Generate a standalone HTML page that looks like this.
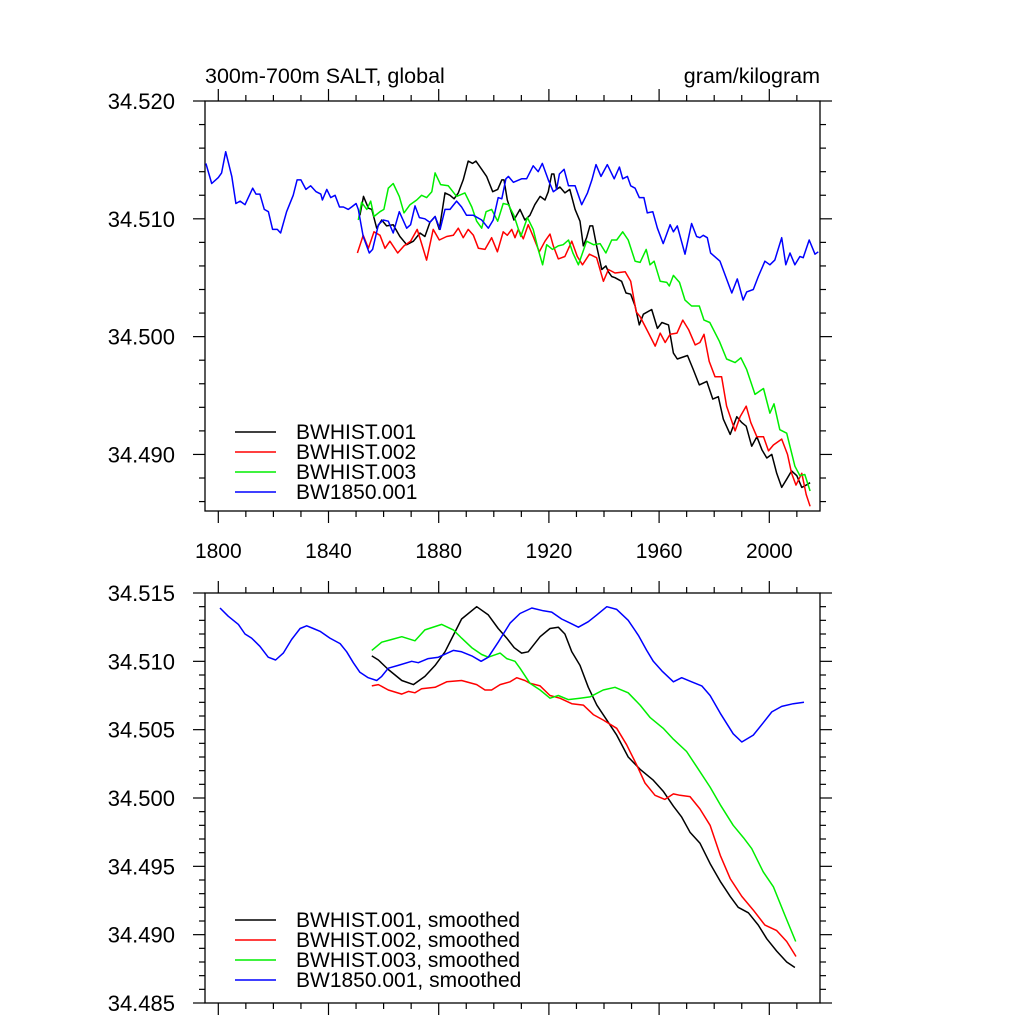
<!DOCTYPE html>
<html><head><meta charset="utf-8"><style>
html,body{margin:0;padding:0;background:#fff;}
svg{display:block;font-family:"Liberation Sans",Arial,sans-serif;}
</style></head><body>
<svg id="chart" width="1024" height="1024" viewBox="0 0 1024 1024" xmlns="http://www.w3.org/2000/svg">
<text x="205" y="83" font-size="21.5">300m-700m SALT, global</text>
<text x="820" y="83" font-size="21.5" text-anchor="end">gram/kilogram</text>
<g id="top"></g>
<g id="bot"></g>
</svg>
<script>
// ---- top panel raw data ----
const blueYears=[1795.5,1797.6,1800,1801.2,1802.7,1804.9,1806.4,1807.9,1809.7,1812.5,1813.7,1815.1,1816.7,1818.2,1819.7,1821.4,1822.6,1824.8,1827.2,1828.6,1830,1831.8,1833.5,1835.5,1837.2,1837.8,1839.4,1840.8,1842.4,1844,1845.4,1847.2,1848.4,1850,1850.8,1852.6,1854.8,1856,1858.1,1859.9,1861.7,1863.5,1865.7,1868.4,1869.8,1871.4,1873,1875,1876.8,1878.7,1880.5,1882.3,1884.1,1886.5,1888.3,1890.1,1892.6,1895.6,1898,1899.8,1901.6,1902.9,1904.4,1905.3,1907.1,1910.1,1911.9,1914.3,1916.1,1917.6,1919.8,1921.6,1922.8,1923.8,1925.5,1927.1,1929.5,1931.9,1934,1935.6,1937.1,1938.9,1941.2,1943.7,1945.6,1946.8,1948.5,1949.7,1951.3,1952.8,1954.5,1955.7,1957.7,1959.4,1961.5,1964,1965.2,1966.6,1969.4,1971.8,1973.6,1974.8,1976,1977.5,1978.7,1982.1,1986.4,1988.4,1990.5,1991.8,1994.2,1996,1998.4,2000.2,2002,2004.5,2006,2007.5,2009.3,2011.1,2012.3,2014.5,2016.6,2017.8];
const blueVals=[34.5147,34.5130,34.5135,34.5139,34.5157,34.5136,34.5113,34.5115,34.5112,34.5126,34.5121,34.5121,34.5108,34.5106,34.5091,34.5091,34.5088,34.5106,34.5120,34.5133,34.5133,34.5125,34.5128,34.5123,34.5121,34.5116,34.5125,34.5118,34.5120,34.5110,34.5110,34.5108,34.5110,34.5113,34.5108,34.5085,34.5071,34.5074,34.5095,34.5099,34.5098,34.5088,34.5106,34.5092,34.5095,34.5111,34.5101,34.5100,34.5097,34.5102,34.5091,34.5108,34.5108,34.5115,34.5110,34.5103,34.5103,34.5099,34.5092,34.5099,34.5118,34.5117,34.5134,34.5136,34.5131,34.5134,34.5134,34.5145,34.5140,34.5147,34.5133,34.5123,34.5125,34.5138,34.5142,34.5128,34.5128,34.5112,34.5122,34.5133,34.5146,34.5136,34.5146,34.5134,34.5144,34.5134,34.5136,34.5128,34.5126,34.5118,34.5118,34.5105,34.5106,34.5092,34.5079,34.5095,34.5089,34.5094,34.5070,34.5096,34.5085,34.5084,34.5086,34.5084,34.5071,34.5064,34.5037,34.5049,34.5031,34.5038,34.5040,34.5051,34.5064,34.5061,34.5065,34.5084,34.5061,34.5071,34.5061,34.5068,34.5067,34.5082,34.5070,34.5072];
const blackYears=[1851.4,1852.7,1854.5,1855.7,1857.5,1859.3,1861.1,1863.5,1865.9,1868.4,1870.8,1873.2,1875,1876.8,1878.7,1880.2,1882.3,1884.1,1885.6,1887.1,1888.9,1890.7,1892.3,1893.5,1895.6,1897.4,1899.6,1901.4,1902.9,1903.7,1904.9,1907.3,1909.5,1911.3,1913.1,1914.9,1916.8,1918.6,1919.8,1921,1921.8,1922.8,1924,1925.8,1927.6,1929.5,1931.3,1932.5,1933.7,1934.9,1935.9,1937.3,1939.2,1940.7,1941.6,1942.8,1944,1946.4,1948,1949.7,1951.3,1952.8,1954.3,1957.3,1959.4,1961,1963.4,1965.2,1966.6,1970.3,1972.4,1974.6,1977.3,1979.5,1981.5,1983.3,1985.8,1988.2,1990,1991.6,1993.6,1995.5,1997.3,1999.1,2000.9,2002.7,2004.5,2006.3,2008.1,2010,2011.8,2013.4,2014.8];
const blackVals=[34.5103,34.5119,34.5109,34.5108,34.5092,34.5099,34.5094,34.5095,34.5085,34.5078,34.5081,34.5088,34.5085,34.5097,34.5102,34.5091,34.5122,34.5120,34.5117,34.5122,34.5133,34.5149,34.5147,34.5149,34.5142,34.5136,34.5123,34.5125,34.5133,34.5133,34.5116,34.5099,34.5108,34.5099,34.5103,34.5112,34.5119,34.5116,34.5123,34.5138,34.5138,34.5125,34.5127,34.5122,34.5125,34.5108,34.5098,34.5077,34.5084,34.5094,34.5094,34.5077,34.5057,34.5060,34.5055,34.5051,34.5050,34.5047,34.5037,34.5036,34.5026,34.5010,34.5019,34.5023,34.5007,34.5012,34.5010,34.4986,34.4981,34.4984,34.4972,34.4959,34.4962,34.4947,34.4949,34.4930,34.4917,34.4932,34.4927,34.4924,34.4907,34.4915,34.4904,34.4897,34.4900,34.4884,34.4872,34.4879,34.4886,34.4882,34.4872,34.4874,34.4876];
const redYears=[1850.5,1852.6,1854.5,1856.5,1858.7,1860.5,1862.3,1865.1,1867.4,1869.8,1872.2,1873.8,1875.6,1878,1880.2,1882.9,1885.3,1887.1,1888.9,1890.7,1892.6,1894.4,1896.8,1899.2,1901.3,1903.4,1904.9,1906.5,1907.7,1908.9,1910.7,1912.5,1914.3,1916.5,1918.6,1920.4,1921.6,1923.4,1925.8,1928.3,1930.3,1932.2,1934.7,1937.3,1939.8,1941.6,1944,1947.7,1949.7,1951.7,1953.1,1956.2,1958.6,1960.4,1962.2,1964,1966.5,1968.6,1970.7,1973.1,1974.8,1976.3,1978.2,1980.3,1982.7,1984.5,1987.6,1989.4,1991.6,1993.3,1995.5,1997.9,1999.7,2001.5,2004.5,2006.6,2008.1,2009.7,2011.8,2013.4,2014.8];
const redVals=[34.5071,34.5086,34.5075,34.5089,34.5086,34.5075,34.5081,34.5071,34.5077,34.5081,34.5091,34.5079,34.5065,34.5091,34.5082,34.5085,34.5086,34.5092,34.5084,34.5091,34.5086,34.5075,34.5074,34.5084,34.5072,34.5089,34.5086,34.5091,34.5084,34.5091,34.5083,34.5095,34.5085,34.5072,34.5081,34.5087,34.5077,34.5066,34.5068,34.5081,34.5068,34.5061,34.5070,34.5067,34.5047,34.5057,34.5054,34.5055,34.5047,34.5021,34.5017,34.5003,34.4992,34.5003,34.4995,34.5002,34.5003,34.5014,34.5006,34.4993,34.4995,34.5002,34.4979,34.4966,34.4966,34.4941,34.4920,34.4932,34.4941,34.4927,34.4915,34.4915,34.4903,34.4908,34.4913,34.4900,34.4884,34.4874,34.4884,34.4866,34.4856];
const greenYears=[1850.8,1852,1853.9,1855.3,1856.5,1858.7,1860.1,1861.7,1863.5,1865.7,1867.4,1869.6,1872,1873.8,1875.6,1877.5,1878.7,1880.7,1883.5,1886.5,1889.5,1892,1893.8,1895.6,1897.2,1899.2,1901.4,1903.4,1905.3,1907.3,1909.8,1912.2,1914.3,1916.1,1917.7,1919.2,1921.3,1923.4,1925.2,1927.1,1928.7,1930.7,1933.7,1936.2,1938.6,1940.7,1942.8,1944.6,1946.8,1948.8,1951.3,1953.1,1955.3,1956.7,1958.2,1960.4,1962.8,1963.7,1965.2,1967.4,1969.4,1971.8,1974.6,1976.3,1978.4,1981.9,1984.5,1987.6,1989.7,1991.8,1994.8,1997.9,2000.2,2001.7,2003.8,2006.3,2009.3,2011.1,2012.9,2014.8];
const greenVals=[34.5099,34.5114,34.5108,34.5115,34.5102,34.5106,34.5108,34.5126,34.5130,34.5119,34.5105,34.5112,34.5116,34.5120,34.5118,34.5123,34.5139,34.5129,34.5128,34.5119,34.5122,34.5110,34.5098,34.5092,34.5106,34.5108,34.5098,34.5113,34.5112,34.5103,34.5085,34.5101,34.5091,34.5074,34.5061,34.5078,34.5074,34.5077,34.5078,34.5082,34.5071,34.5061,34.5081,34.5078,34.5079,34.5071,34.5082,34.5082,34.5089,34.5082,34.5064,34.5063,34.5074,34.5061,34.5064,34.5047,34.5046,34.5043,34.5052,34.5046,34.5031,34.5026,34.5026,34.5014,34.5012,34.4996,34.4981,34.4978,34.4982,34.4972,34.4951,34.4956,34.4935,34.4943,34.4921,34.4918,34.4890,34.4882,34.4883,34.4869];
// ---- bottom panel smoothed data ----
const sBlueYears=[1800.6,1803.6,1807.3,1809.7,1812.1,1815.1,1818.1,1820.8,1823.6,1826.6,1829.7,1832.1,1834.5,1836.9,1840.5,1844.2,1846.6,1849,1851.4,1854.4,1857.5,1859.3,1861.7,1865.3,1870.2,1872.6,1876.2,1879.9,1885.3,1888.3,1892,1895.4,1898,1901.6,1905.9,1909.5,1913.8,1918,1921,1924.6,1927.7,1930.7,1934.3,1937.4,1941,1944.6,1948.8,1952.5,1955.5,1957.9,1961,1965.2,1968.2,1971.8,1975.5,1978.5,1982.2,1986.9,1990,1994.2,1997.8,2000.9,2004.5,2008.7,2012.6];
const sBlueVals=[34.5139,34.5133,34.5127,34.5120,34.5117,34.5111,34.5103,34.5101,34.5106,34.5116,34.5124,34.5126,34.5124,34.5122,34.5117,34.5113,34.5107,34.5099,34.5092,34.5088,34.5086,34.5089,34.5095,34.5097,34.5100,34.5099,34.5102,34.5103,34.5108,34.5107,34.5104,34.5100,34.5103,34.5114,34.5128,34.5135,34.5139,34.5137,34.5136,34.5131,34.5128,34.5125,34.5129,34.5134,34.5140,34.5138,34.5130,34.5119,34.5108,34.5100,34.5093,34.5085,34.5088,34.5085,34.5082,34.5075,34.5062,34.5047,34.5041,34.5046,34.5055,34.5063,34.5067,34.5069,34.5070];
const sBlackYears=[1855.7,1858.1,1861.7,1866.6,1870.8,1875,1878.7,1882.3,1885.3,1888.3,1893.8,1898,1901.6,1904.7,1907.4,1910.1,1912.5,1916.8,1920.4,1923.4,1925.8,1928.3,1931.3,1934.3,1937.4,1941,1944.6,1948.8,1953.1,1957.9,1961.5,1965.2,1968.2,1971.2,1974.8,1978.5,1982.2,1985.8,1988.7,1992.4,1996,1999.1,2002.7,2006.3,2009.3];
const sBlackVals=[34.5104,34.5101,34.5094,34.5086,34.5083,34.5089,34.5097,34.5107,34.5119,34.5131,34.5140,34.5134,34.5124,34.5117,34.5110,34.5106,34.5107,34.5118,34.5124,34.5125,34.5120,34.5107,34.5097,34.5081,34.5068,34.5057,34.5046,34.5030,34.5021,34.5013,34.5005,34.4994,34.4986,34.4975,34.4967,34.4952,34.4939,34.4928,34.4920,34.4916,34.4907,34.4897,34.4888,34.4880,34.4876];
const sRedYears=[1855.7,1858.1,1861.7,1866.6,1869,1871.4,1873.8,1878.7,1882.9,1888.3,1893.8,1896.8,1899.2,1902.3,1905.9,1908.3,1911.3,1913.1,1916.8,1920.4,1924,1928.3,1932.5,1936.1,1939.8,1944.6,1948.2,1951.9,1954.9,1958.5,1962.1,1965.2,1967.6,1971.2,1974.8,1978.5,1982.2,1985.8,1990,1994.2,1998.4,2002.7,2006.3,2009.7];
const sRedVals=[34.5082,34.5083,34.5079,34.5076,34.5078,34.5077,34.5080,34.5081,34.5085,34.5086,34.5083,34.5079,34.5079,34.5083,34.5085,34.5088,34.5086,34.5084,34.5082,34.5075,34.5073,34.5069,34.5068,34.5061,34.5057,34.5051,34.5039,34.5024,34.5011,34.5002,34.4999,34.5003,34.5002,34.5001,34.4992,34.4980,34.4958,34.4941,34.4928,34.4918,34.4907,34.4903,34.4895,34.4884];
const sGreenYears=[1855.7,1859.3,1862.9,1866.6,1871.4,1875,1881.1,1885.3,1888.3,1892,1895.6,1898,1902.3,1904.7,1907.7,1909.5,1913.1,1916.8,1920.4,1923.4,1927,1931.3,1934.9,1939.7,1944,1948.8,1953.1,1956.7,1961.5,1965.2,1970,1973.6,1978.5,1982.2,1986.9,1990.6,1993.6,1997.8,2001.5,2005.7,2009.6];
const sGreenVals=[34.5108,34.5114,34.5116,34.5118,34.5115,34.5123,34.5127,34.5123,34.5117,34.5110,34.5105,34.5103,34.5106,34.5102,34.5100,34.5095,34.5084,34.5079,34.5073,34.5075,34.5072,34.5073,34.5074,34.5079,34.5081,34.5077,34.5068,34.5059,34.5051,34.5043,34.5034,34.5023,34.5008,34.4995,34.4980,34.4971,34.4963,34.4946,34.4935,34.4914,34.4895];
const topYTicks=["34.520","34.510","34.500","34.490"];
const botYTicks=["34.515","34.510","34.505","34.500","34.495","34.490","34.485"];
const xTickLabels=["1800","1840","1880","1920","1960","2000"];
const topLegend=["BWHIST.001","BWHIST.002","BWHIST.003","BW1850.001"];
const botLegend=["BWHIST.001, smoothed","BWHIST.002, smoothed","BWHIST.003, smoothed","BW1850.001, smoothed"];

const NS="http://www.w3.org/2000/svg";
const L=205,R=820;
const xs=yr=>218.3+(yr-1800)*2.755;
function mk(tag,attrs,parent){const e=document.createElementNS(NS,tag);for(const k in attrs)e.setAttribute(k,attrs[k]);parent.appendChild(e);return e;}
function panel(g,top,bottom,vmax,vmin,major,minor,labels,showX,series,legend,legY){
  const ys=v=>top+(vmax-v)/(vmax-vmin)*(bottom-top);
  const fr=mk('rect',{x:L,y:top,width:R-L,height:bottom-top,fill:'none',stroke:'#000','stroke-width':1.3},g);
  
  const nMin=Math.round((vmax-vmin)/minor);
  for(let i=0;i<=nMin;i++){
    const v=vmax-i*minor;const y=ys(v);
    const isMaj=Math.abs(Math.round((vmax-v)/major)*major-(vmax-v))<1e-7;
    const len=isMaj?12:6;
    const t1=mk('line',{x1:L-len,x2:L,y1:y,y2:y,stroke:'#000','stroke-width':1.2},g);
    
    const t2=mk('line',{x1:R,x2:R+len,y1:y,y2:y,stroke:'#000','stroke-width':1.2},g);
    
  }
  labels.forEach(s=>{const v=parseFloat(s);const y=ys(v);if(y>bottom+1)return;
    const t=mk('text',{x:175,y:y+8,'font-size':22,'text-anchor':'end'},g);t.textContent=s;
    });
  for(let yr=1800;yr<=2010;yr+=10){
    const x=xs(yr);const isMaj=(yr-1800)%40===0;const len=isMaj?12:6;
    const a=mk('line',{x1:x,x2:x,y1:bottom,y2:bottom+len,stroke:'#000','stroke-width':1.2},g);
    
    const b=mk('line',{x1:x,x2:x,y1:top-len,y2:top,stroke:'#000','stroke-width':1.2},g);
    
  }
  if(showX){xTickLabels.forEach(s=>{const t=mk('text',{x:xs(+s),y:558,'font-size':21,'text-anchor':'middle'},g);t.textContent=s;
    });}
  series.forEach(se=>{
    const d=se.yr.map((yr,i)=>(i?'L':'M')+xs(yr).toFixed(1)+','+ys(se.v[i]).toFixed(1)).join('');
    const p=mk('path',{d:d,fill:'none',stroke:se.c,'stroke-width':1.5,'stroke-linejoin':'round'},g);
    
  });
  legend.forEach((s,i)=>{const y=legY+i*20;
    const ln=mk('line',{x1:235,x2:276,y1:y,y2:y,stroke:series[i].c,'stroke-width':1.5},g);
    
    const t=mk('text',{x:296,y:y+7,'font-size':21},g);t.textContent=s;
    });
}
const C=['#000','#f00','#0e0','#00f'];
const topSeries=[{yr:blackYears,v:blackVals,c:C[0],n:'line-bwhist-001'},{yr:redYears,v:redVals,c:C[1],n:'line-bwhist-002'},{yr:greenYears,v:greenVals,c:C[2],n:'line-bwhist-003'},{yr:blueYears,v:blueVals,c:C[3],n:'line-bw1850-001'}];
const botSeries=[{yr:sBlackYears,v:sBlackVals,c:C[0],n:'line-bwhist-001-smoothed'},{yr:sRedYears,v:sRedVals,c:C[1],n:'line-bwhist-002-smoothed'},{yr:sGreenYears,v:sGreenVals,c:C[2],n:'line-bwhist-003-smoothed'},{yr:sBlueYears,v:sBlueVals,c:C[3],n:'line-bw1850-001-smoothed'}];
panel(document.getElementById('top'),101,511,34.520,34.4852,0.010,0.002,topYTicks,true,topSeries,topLegend,432);
panel(document.getElementById('bot'),593,1003,34.515,34.485,0.005,0.001,botYTicks,false,botSeries,botLegend,920);
</script>
</body></html>
